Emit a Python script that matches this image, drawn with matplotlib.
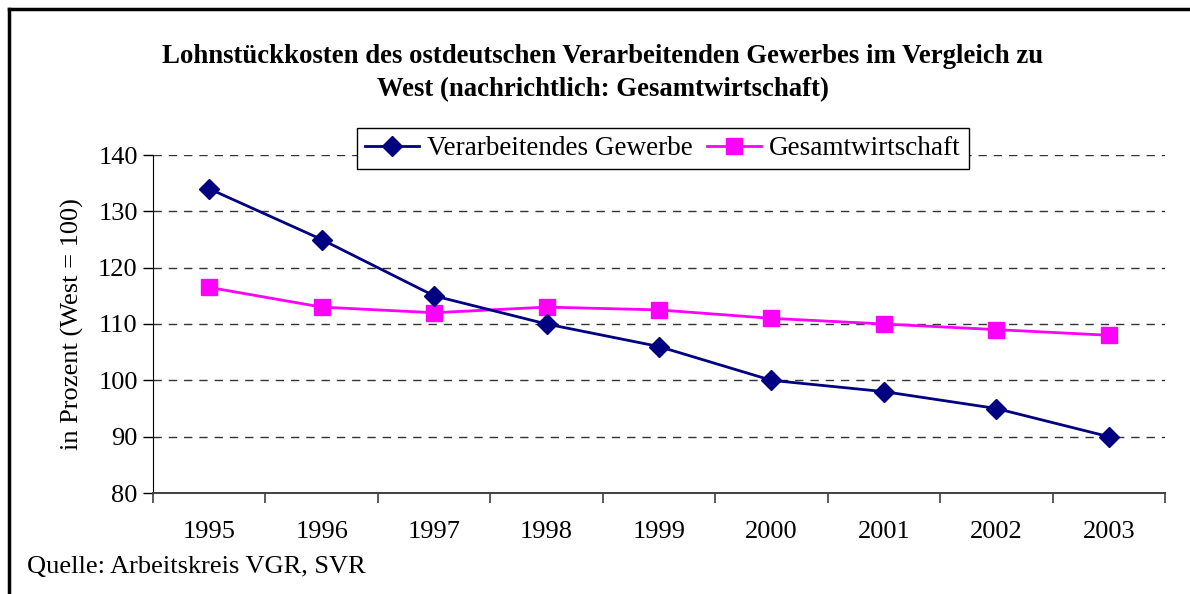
import matplotlib
matplotlib.use("Agg")
import matplotlib.pyplot as plt
from matplotlib.lines import Line2D

years = ["1995", "1996", "1997", "1998", "1999", "2000", "2001", "2002", "2003"]
verarbeitendes = [134, 125, 115, 110, 106, 100, 98, 95, 90]
gesamt = [116.5, 113, 112, 113, 112.5, 111, 110, 109, 108]
yticks = [80, 90, 100, 110, 120, 130, 140]

plt.rcParams['font.family'] = ['Liberation Serif', 'DejaVu Serif']

W, H = 1190, 594
fig = plt.figure(figsize=(W/100, H/100), dpi=100)
ax = fig.add_axes([153/W, 1-493/H, (1165-153)/W, (493-155)/H])

x = list(range(len(years)))
ax.plot(x, verarbeitendes, color='#000080', lw=2, marker='D', ms=10,
        mfc='#000080', mec='#000080', label='Verarbeitendes Gewerbe', zorder=4)
ax.plot(x, gesamt, color='#FF00FF', lw=2, marker='s', ms=11.5,
        mfc='#FF00FF', mec='#FF00FF', label='Gesamtwirtschaft', zorder=3)

ax.set_xlim(-0.5, len(years)-0.5)
ax.set_ylim(80, 140)
ax.set_yticks(yticks)
ax.set_yticklabels([str(v) for v in yticks], fontsize=19)
ax.set_xticks([i-0.5 for i in range(len(years)+1)])
ax.set_xticklabels([])
ax.set_xticks(x, minor=True)
ax.set_xticklabels(years, minor=True, fontsize=19)
ax.tick_params(axis='x', which='minor', length=0, pad=20)
ax.tick_params(axis='x', which='major', direction='out', length=7, width=1.2, color='#404040')
ax.tick_params(axis='y', direction='out', length=7, width=1, pad=4)
for v in yticks[1:]:
    ax.axhline(v, color='#333333', lw=1, ls=(0, (6, 5)), zorder=1)
for s in ['top', 'right']:
    ax.spines[s].set_visible(False)
ax.spines['left'].set_color('black')
ax.spines['bottom'].set_color('#404040')
ax.spines['bottom'].set_linewidth(1.4)

ax.set_ylabel('in Prozent (West = 100)', fontsize=19, labelpad=10)

leg = ax.legend(loc='upper left', bbox_to_anchor=((357-153)/(1165-153), (493-128)/(493-155)),
                ncol=2, fontsize=19.5, frameon=True, fancybox=False, edgecolor='black',
                framealpha=1, borderpad=0.3, handlelength=2.0, handletextpad=0.3,
                columnspacing=0.5, borderaxespad=0)
leg.get_frame().set_linewidth(1)

fig.text(603/W, 1-73.5/H, 'Lohnstückkosten des ostdeutschen Verarbeitenden Gewerbes im Vergleich zu\nWest (nachrichtlich: Gesamtwirtschaft)',
         ha='center', va='center', fontsize=19.3, fontweight='bold', linespacing=1.42)
fig.text(27/W, 1-567/H, 'Quelle: Arbeitskreis VGR, SVR', ha='left', va='center', fontsize=19)

fig.add_artist(Line2D([9/W, 1], [1-9/H, 1-9/H], color='black', lw=2.5, transform=fig.transFigure))
fig.add_artist(Line2D([9/W, 9/W], [0, 1-9/H], color='black', lw=2.5, transform=fig.transFigure))

fig.savefig('out.png', dpi=100)
